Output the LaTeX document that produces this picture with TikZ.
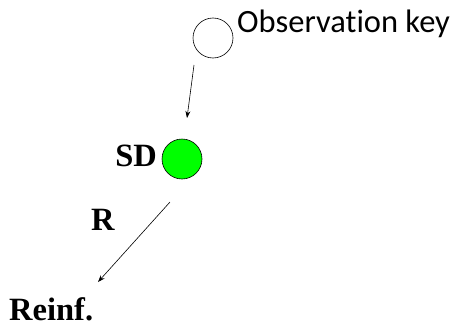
\documentclass[tikz,border=0pt]{standalone}
\usepackage{fontspec}
\setmainfont{Liberation Serif}
\newfontfamily\keyfont[Ligatures=NoCommon]{Carlito}
\usetikzlibrary{arrows.meta}
\begin{document}
\begin{tikzpicture}[x=1pt,y=-1pt,
    state/.style={circle,draw,minimum size=40pt,inner sep=0pt,line width=0.6pt},
    lbl/.style={font=\fontsize{32.5}{34}\selectfont\bfseries,inner sep=0pt},
    arr/.style={-{Stealth[length=7pt,width=5pt]},line width=0.6pt}]
  \useasboundingbox (0,0) rectangle (455,332);
  \draw
    (213,38) node[state] (obs){}
    (182,159) node[state,fill=green] (sd){};
  \node[font=\keyfont\fontsize{32.5}{34}\selectfont,inner sep=0pt,anchor=base west] (key) at (237,32) {Observation key};
  \node[lbl,anchor=base east] (sdl) at (157,166) {SD};
  \node[lbl,anchor=base west] (r) at (91,230) {R};
  \node[lbl,anchor=base west] (reinf) at (9,320) {Reinf.};
  \coordinate (a1) at (194,65);
  \coordinate (a2) at (187,118);
  \coordinate (b1) at (170,202);
  \coordinate (b2) at (98,282);
  \begin{scope}[arr]
    \draw (a1) to (a2);
    \draw (b1) to (b2);
  \end{scope}
\end{tikzpicture}
\end{document}
